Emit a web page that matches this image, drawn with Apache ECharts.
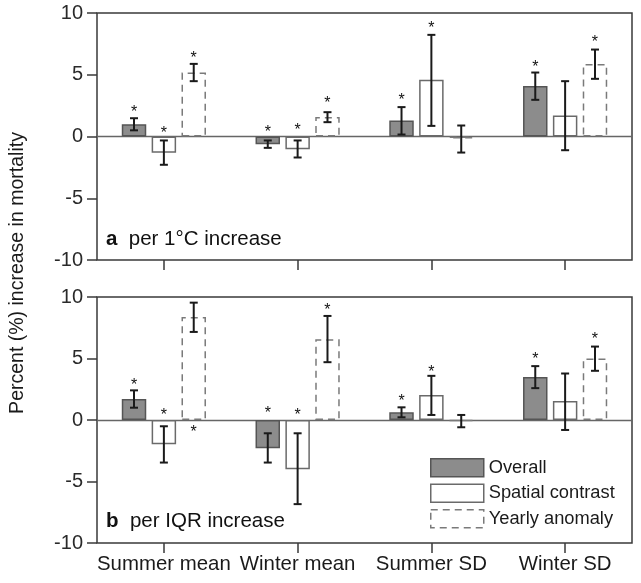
<!DOCTYPE html>
<html>
<head>
<meta charset="utf-8">
<script src="https://cdn.jsdelivr.net/npm/echarts@6/dist/echarts.min.js"></script>
<style>
html,body{margin:0;padding:0;background:#fff;}
#chart{width:641px;height:583px;}
</style>
</head>
<body>
<div id="chart"></div>
<script>
// ---------- data ----------
const categories = ['Summer mean', 'Winter mean', 'Summer SD', 'Winter SD'];
const seriesNames = ['Overall', 'Spatial contrast', 'Yearly anomaly'];
const yTicks = [-10, -5, 0, 5, 10];

// panel a: per 1°C increase
const aOverall = [1.0, -0.62, 1.3, 4.08];
const aOverallLo = [0.5, -0.92, 0.16, 2.97];
const aOverallHi = [1.48, -0.32, 2.38, 5.18];
const aSpatial = [-1.32, -1.03, 4.59, 1.7];
const aSpatialLo = [-2.29, -1.7, 0.86, -1.11];
const aSpatialHi = [-0.32, -0.32, 8.23, 4.48];
const aYearly = [5.18, 1.57, -0.16, 5.88];
const aYearlyLo = [4.48, 1.16, -1.3, 4.67];
const aYearlyHi = [5.88, 1.97, 0.89, 7.04];
const aStarOverall = [2.24, 0.67, 3.24, 5.94];
const aStarSpatial = [0.54, 0.81, 9.04, null];
const aStarYearly = [6.64, 2.97, null, 7.91];

// panel b: per IQR increase
const bOverall = [1.7, -2.3, 0.62, 3.49];
const bOverallLo = [1.0, -3.46, 0.22, 2.59];
const bOverallHi = [2.41, -1.08, 1.03, 4.38];
const bSpatial = [-1.97, -4.0, 2.03, 1.54];
const bSpatialLo = [-3.46, -6.84, 0.41, -0.81];
const bSpatialHi = [-0.51, -1.08, 3.59, 3.78];
const bYearly = [8.38, 6.57, -0.08, 5.0];
const bYearlyLo = [7.16, 4.7, -0.59, 4.0];
const bYearlyHi = [9.54, 8.46, 0.41, 5.97];
const bStarOverall = [3.14, 0.86, 1.84, 5.22];
const bStarSpatial = [0.7, 0.7, 4.22, null];
const bStarYearly = [-0.73, 9.24, null, 6.84];

// ---------- styling ----------
const FONT = 'Liberation Sans, Arial, sans-serif';
const BAR_W = 0.183;   // fraction of category band
const BAR_GAP = 0.22;  // fraction of bar width
const barStyles = [
  {color: '#8c8c8c', borderColor: '#555555', borderWidth: 1.5},
  {color: '#ffffff', borderColor: '#6a6a6a', borderWidth: 1.5},
  {color: 'rgba(255,255,255,0)', borderColor: '#7a7a7a', borderWidth: 1.5, borderType: [7, 5]}
];

const grids = [
  {left: 97, top: 13, width: 535, height: 247},
  {left: 97, top: 297, width: 535, height: 246}
];

function buildErr(lows, highs, stars) {
  const out = [];
  for (let s = 0; s < 3; s++) {
    for (let c = 0; c < categories.length; c++) {
      out.push([c, s, lows[s][c], highs[s][c], stars[s][c] == null ? NaN : stars[s][c]]);
    }
  }
  return out;
}

function errRender(params, api) {
  const c = api.value(0), s = api.value(1), lo = api.value(2), hi = api.value(3), st = api.value(4);
  const band = api.size([1, 0])[0];
  const bw = band * BAR_W;
  const off = (s - 1) * bw * (1 + BAR_GAP);
  const pLo = api.coord([c, lo]);
  const pHi = api.coord([c, hi]);
  const x = pLo[0] + off;
  const cw = 4;
  const st2 = {stroke: '#1a1a1a', lineWidth: 2};
  const children = [
    {type: 'line', shape: {x1: x, y1: pLo[1], x2: x, y2: pHi[1]}, style: st2},
    {type: 'line', shape: {x1: x - cw, y1: pLo[1], x2: x + cw, y2: pLo[1]}, style: st2},
    {type: 'line', shape: {x1: x - cw, y1: pHi[1], x2: x + cw, y2: pHi[1]}, style: st2}
  ];
  if (!isNaN(st)) {
    const ps = api.coord([c, st]);
    children.push({type: 'text', style: {text: '*', x: x, y: ps[1] + 4, align: 'center', verticalAlign: 'middle', font: '16px ' + FONT, fill: '#111'}});
  }
  return {type: 'group', children: children};
}

const panels = [
  {vals: [aOverall, aSpatial, aYearly], lo: [aOverallLo, aSpatialLo, aYearlyLo], hi: [aOverallHi, aSpatialHi, aYearlyHi], st: [aStarOverall, aStarSpatial, aStarYearly]},
  {vals: [bOverall, bSpatial, bYearly], lo: [bOverallLo, bSpatialLo, bYearlyLo], hi: [bOverallHi, bSpatialHi, bYearlyHi], st: [bStarOverall, bStarSpatial, bStarYearly]}
];

const series = [];
panels.forEach((p, g) => {
  for (let s = 0; s < 3; s++) {
    const ser = {
      type: 'bar', name: seriesNames[s], xAxisIndex: g, yAxisIndex: g,
      data: p.vals[s], barWidth: (BAR_W * 100) + '%', barGap: (BAR_GAP * 100) + '%',
      itemStyle: barStyles[s], z: 3, animation: false
    };
    if (s === 0) {
      ser.markLine = {silent: true, symbol: 'none', label: {show: false}, animation: false,
        lineStyle: {color: '#666', width: 1.3, type: 'solid'}, z: 1, data: [{yAxis: 0}]};
    }
    series.push(ser);
  }
  series.push({
    type: 'custom', xAxisIndex: g, yAxisIndex: g, renderItem: errRender, z: 5, animation: false,
    data: buildErr(p.lo, p.hi, p.st), encode: {x: 0, y: [2, 3]}
  });
});

const option = {
  animation: false,
  backgroundColor: '#fff',
  textStyle: {fontFamily: FONT},
  grid: grids.map(g => Object.assign({show: true, borderColor: '#3a3a3a', borderWidth: 1.5, backgroundColor: 'transparent'}, g)),
  xAxis: [0, 1].map(g => ({
    type: 'category', gridIndex: g, data: categories, position: 'bottom',
    axisLine: {show: false, onZero: false},
    axisTick: {show: true, alignWithLabel: true, interval: 0, length: 10, lineStyle: {color: '#3a3a3a', width: 1.5}},
    axisLabel: {show: g === 1, interval: 0, fontSize: 20.4, color: '#1a1a1a', margin: 11, fontFamily: FONT},
    splitLine: {show: false}
  })),
  yAxis: [0, 1].map(g => ({
    type: 'value', gridIndex: g, min: yTicks[0], max: yTicks[yTicks.length - 1], interval: 5,
    axisLine: {show: false},
    axisTick: {show: true, length: 10, lineStyle: {color: '#3a3a3a', width: 1.5}},
    axisLabel: {fontSize: 20, color: '#2a2a2a', margin: 14, fontFamily: FONT},
    splitLine: {show: false}
  })),
  legend: {
    orient: 'vertical', left: 425, top: 453, itemWidth: 53, itemHeight: 18, itemGap: 6,
    icon: 'rect',
    data: seriesNames.map((n, i) => ({name: n, itemStyle: barStyles[i]})),
    textStyle: {fontSize: 18.3, color: '#1a1a1a', fontFamily: FONT}
  },
  graphic: [
    {type: 'text', x: 18, y: 273, rotation: Math.PI / 2, style: {text: 'Percent (%) increase in mortality', align: 'center', verticalAlign: 'middle', font: '19.5px ' + FONT, fill: '#1a1a1a'}},
    {type: 'text', x: 106, y: 239, style: {text: '{b|a}  per 1°C increase', verticalAlign: 'middle', font: '20.5px ' + FONT, fill: '#111', rich: {b: {fontWeight: 'bold', fontSize: 20.5, fontFamily: FONT}}}},
    {type: 'text', x: 106, y: 521, style: {text: '{b|b}  per IQR increase', verticalAlign: 'middle', font: '20.5px ' + FONT, fill: '#111', rich: {b: {fontWeight: 'bold', fontSize: 20.5, fontFamily: FONT}}}}
  ],
  series: series
};

const chart = echarts.init(document.getElementById('chart'), null, {renderer: 'canvas'});
chart.setOption(option);
</script>
</body>
</html>
